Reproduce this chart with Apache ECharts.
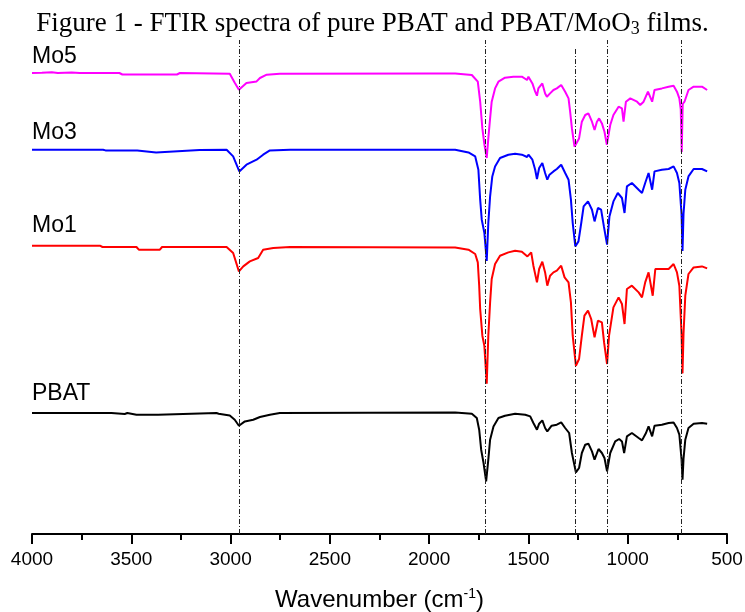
<!DOCTYPE html>
<html>
<head>
<meta charset="utf-8">
<script src="https://cdn.jsdelivr.net/npm/echarts@6/dist/echarts.min.js"></script>
<style>
  html, body { margin: 0; padding: 0; background: #fff; }
  #chart { width: 745px; height: 612px; }
</style>
</head>
<body>
<div id="chart"></div>
<script>
// ===== datos (número de onda, transmitancia apilada en u.a.) =====
const MO5 = [
  [4000, 461], [3950, 461.2], [3900, 461.8], [3870, 461], [3800, 461.6], [3760, 461], [3560, 461],
  [3545, 459.5], [3270, 459.5], [3255, 461], [3004, 460.3], [2979, 451.3], [2958, 444.3],
  [2920, 451], [2869, 452.6], [2852, 456], [2818, 459.3], [2752, 460.3], [2000, 460.6],
  [1869, 460.6], [1785, 459], [1755, 452.3], [1743, 432.3], [1732, 405.6], [1722, 390],
  [1710, 376], [1702, 395.6], [1693, 415.6], [1685, 432.3], [1668, 445.6], [1651, 452.3],
  [1618, 456.3], [1576, 457.3], [1533, 457.3], [1507, 454], [1500, 457.3], [1480, 450.6],
  [1466, 442.3], [1457, 438.3], [1450, 445.6], [1430, 450.6], [1416, 440.6], [1407, 437.3],
  [1391, 440.6], [1374, 444], [1357, 445.6], [1335, 449], [1315, 442.3], [1298, 435.6],
  [1290, 422.3], [1281, 405.6], [1268, 387.3], [1261, 386.3], [1245, 395.6], [1231, 412.3],
  [1214, 419], [1198, 420.6], [1180, 412.3], [1167, 404], [1155, 412.3], [1144, 415.6],
  [1130, 410.6], [1117, 402.3], [1105, 389.3], [1088, 409], [1072, 419], [1046, 427.3],
  [1029, 425.6], [1021, 412.3], [1009, 432.3], [987, 435.6], [953, 432.3], [937, 429],
  [920, 432.3], [898, 442.3], [877, 432.3], [865, 444], [828, 445.6], [794, 447.3],
  [769, 448.3], [752, 442.3], [740, 435.6], [733, 425], [728, 382], [723, 430], [714, 432.3],
  [694, 444], [668, 447.3], [626, 447.3], [600, 444]
];
const MO3 = [
  [4000, 384.3], [3642, 384.3], [3630, 383.6], [3470, 383.6], [3460, 381.6], [3375, 381.6],
  [3365, 383.6], [3156, 384], [3020, 384.3], [2987, 377.6], [2956, 362.6], [2920, 369.3],
  [2869, 374.3], [2836, 379.3], [2802, 383.6], [2700, 384.3], [1869, 384.3], [1802, 381.6],
  [1768, 377.6], [1752, 364.3], [1743, 334.3], [1735, 314.3], [1722, 301.3], [1710, 273],
  [1702, 311], [1693, 337.6], [1682, 357.6], [1668, 367.6], [1643, 376], [1601, 379.3],
  [1567, 380.3], [1533, 379.3], [1507, 377], [1500, 379.3], [1480, 374.3], [1466, 364.3],
  [1457, 355], [1446, 366], [1430, 371], [1416, 361], [1405, 354.3], [1394, 359.3],
  [1374, 362.6], [1357, 365], [1335, 369.3], [1315, 361], [1298, 354.3], [1286, 334.3],
  [1277, 311], [1264, 287.6], [1248, 292.6], [1234, 311], [1222, 327.6], [1200, 332.6],
  [1180, 324.3], [1167, 312.6], [1150, 326], [1134, 324.3], [1120, 307.6], [1104, 289.3],
  [1092, 317.6], [1072, 332.6], [1050, 341], [1029, 336], [1016, 321], [1004, 347.6],
  [979, 351], [945, 344.3], [928, 341], [912, 351], [895, 361], [877, 344.3], [865, 362.6],
  [828, 364.3], [794, 365], [769, 367.6], [752, 361], [740, 351], [729, 320], [724, 283],
  [719, 320], [710, 344.3], [694, 357.6], [668, 365], [626, 365], [600, 362.6]
];
const MO1 = [
  [4000, 288.3], [3658, 288.3], [3645, 287], [3474, 287], [3462, 284.3], [3356, 284.3],
  [3345, 287], [3156, 287], [3020, 287], [2987, 281], [2958, 262.6], [2936, 267.6],
  [2903, 272.6], [2861, 276], [2836, 284.3], [2785, 286], [2700, 287], [1869, 286.6],
  [1802, 284.3], [1768, 280], [1755, 271.6], [1748, 248.3], [1743, 225], [1732, 198.3],
  [1722, 188.3], [1710, 150.3], [1702, 198.3], [1693, 231.6], [1685, 255], [1668, 270],
  [1643, 278.3], [1601, 281.6], [1567, 283.3], [1533, 282.3], [1505, 277.6], [1486, 281.6],
  [1475, 268.3], [1457, 251.6], [1446, 265], [1430, 272.3], [1416, 261.6], [1405, 248.3],
  [1391, 258.3], [1374, 261.6], [1357, 263.3], [1335, 268.3], [1318, 256.6], [1298, 251.6],
  [1286, 231.6], [1277, 198.3], [1261, 168.3], [1245, 175], [1231, 198.3], [1218, 218.3],
  [1200, 223.3], [1184, 215], [1167, 196.6], [1150, 213.3], [1130, 211.6], [1119, 191.6],
  [1104, 170], [1094, 198.3], [1072, 226.6], [1046, 236.6], [1029, 230], [1016, 210],
  [1004, 245], [979, 248.3], [945, 241.6], [928, 236.6], [912, 251.6], [895, 261.6],
  [874, 238.3], [861, 265], [828, 265], [794, 265], [769, 270], [752, 261.6], [740, 248.3],
  [729, 200], [724, 160.6], [719, 200], [710, 238.3], [694, 260], [668, 266.6], [626, 267.6],
  [600, 265.6]
];
const PBAT = [
  [4000, 121], [3600, 121], [3533, 120], [3520, 121], [3474, 119.3], [3365, 119.3],
  [3355, 121], [3071, 121], [3060, 120.3], [3004, 118.6], [2979, 114.3], [2958, 108.3],
  [2928, 112.6], [2886, 114.3], [2852, 117], [2802, 119.3], [2752, 121], [1869, 121.6],
  [1785, 120.3], [1760, 116], [1748, 104.3], [1738, 84.3], [1726, 71], [1713, 52.6],
  [1702, 74.3], [1693, 94.3], [1676, 107.6], [1651, 116], [1618, 118.3], [1567, 120.3],
  [1516, 119.3], [1491, 117.6], [1475, 111], [1457, 104.3], [1446, 110.3], [1430, 113.6],
  [1416, 106], [1405, 102.6], [1383, 108.3], [1357, 109.3], [1335, 111.6], [1315, 106],
  [1295, 101], [1281, 81], [1261, 61.6], [1245, 66], [1231, 81], [1214, 89.3], [1198, 90.3],
  [1180, 82.6], [1167, 74.3], [1147, 85], [1130, 81], [1117, 76], [1104, 62.6], [1088, 81],
  [1063, 92.6], [1043, 95], [1029, 92.6], [1018, 81], [1004, 97.6], [979, 101], [945, 96],
  [928, 93.6], [908, 101], [895, 107.6], [877, 97.6], [865, 108.3], [828, 109.3],
  [794, 111], [769, 111.6], [752, 106], [740, 99.3], [729, 75], [724, 54.3], [719, 75],
  [710, 94.3], [694, 106], [668, 110.3], [626, 111], [600, 110.3]
];
// bandas marcadas con líneas verticales (cm-1) y su extremo superior
const BANDAS = [2958, 1718, 1263, 1105, 730];
const BANDA_TOP = [494, 494, 486, 494, 494];
const NOMBRES = ['PBAT', 'Mo1', 'Mo3', 'Mo5'];
const X_TICKS = { min: 500, max: 4000, step: 500 };

// ---- estilo ----
const SANS = 'Liberation Sans, Arial, sans-serif';
const SERIF = 'Liberation Serif, Times New Roman, serif';
const COLORES = { PBAT: '#000000', Mo1: '#ff0000', Mo3: '#0000ff', Mo5: '#ff00ff' };
const DATOS = { PBAT, Mo1: MO1, Mo3: MO3, Mo5: MO5 };
// posición de las etiquetas de cada curva (px)
const ETIQ_Y = { Mo5: 59, Mo3: 135, Mo1: 228, PBAT: 396 };

const chart = echarts.init(document.getElementById('chart'), null, { renderer: 'canvas' });

const espectros = NOMBRES.map(n => ({
  name: n, type: 'line', data: DATOS[n], symbol: 'none', smooth: false,
  lineStyle: { color: COLORES[n], width: 2 }, z: 3,
}));

const guias = {
  type: 'line', data: [], silent: true, z: 2,
  markLine: {
    symbol: 'none', silent: true, label: { show: false },
    lineStyle: { color: '#222', width: 1, type: [5, 2, 1, 2] },
    data: BANDAS.map((b, i) => [{ coord: [b, 0] }, { coord: [b, BANDA_TOP[i]] }]),
  },
};

chart.setOption({
  animation: false,
  backgroundColor: '#fff',
  title: {
    text: 'Figure 1 - FTIR spectra of pure PBAT and PBAT/MoO{sub|3} films.',
    left: 'center', top: 5,
    textStyle: {
      fontFamily: SERIF, fontSize: 27, fontWeight: 'normal', color: '#000',
      rich: { sub: { fontFamily: SERIF, fontSize: 18, color: '#000', padding: [10, 0, 0, 0] } },
    },
  },
  grid: { left: 32, right: 18, top: 38, bottom: 78, outerBoundsMode: 'none' },
  xAxis: {
    type: 'value', inverse: true,
    min: X_TICKS.min, max: X_TICKS.max, interval: X_TICKS.step,
    name: 'Wavenumber (cm{sup|-1})', nameLocation: 'middle', nameGap: 53,
    nameTextStyle: {
      fontFamily: SANS, fontSize: 24, color: '#000',
      rich: { sup: { fontFamily: SANS, fontSize: 14, color: '#000', padding: [0, 0, 12, 0] } },
    },
    axisLine: { lineStyle: { color: '#000', width: 2 } },
    axisTick: { show: true, length: 10, lineStyle: { color: '#000', width: 2 } },
    minorTick: { show: true, splitNumber: 2, length: 6, lineStyle: { color: '#000', width: 2 } },
    splitLine: { show: false },
    axisLabel: {
      fontFamily: SANS, fontSize: 19, color: '#000', margin: 16,
      formatter: v => String(v),
    },
  },
  yAxis: { type: 'value', min: 0, max: 496, show: false },
  graphic: NOMBRES.map(n => ({
    type: 'text', left: 32, top: ETIQ_Y[n] - 14,
    style: { text: n, font: `23px ${SANS}`, fill: '#000' },
  })),
  series: [guias, ...espectros],
});

window.addEventListener('resize', () => chart.resize());
</script>
</body>
</html>
